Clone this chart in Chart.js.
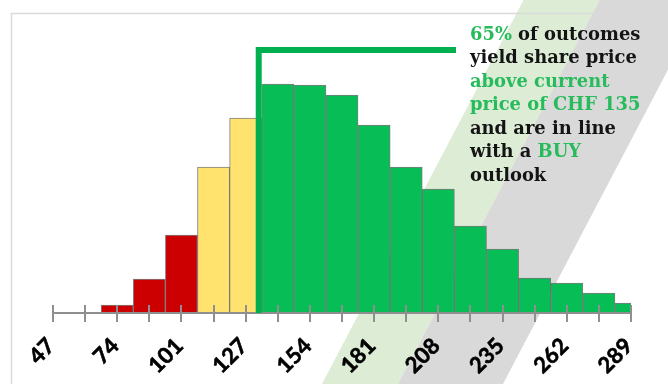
<!DOCTYPE html>
<html>
<head>
<meta charset="utf-8">
<script src="https://cdn.jsdelivr.net/npm/chart.js@4.4.1/dist/chart.umd.min.js"></script>
<style>
  html, body { margin: 0; padding: 0; background: #fff; }
  #wrap { width: 668px; height: 384px; }
</style>
</head>
<body>
<div id="wrap"><canvas id="chart" width="668" height="384"></canvas></div>
<script>
// Centre of each share-price bin (CHF)
const binCentres = ['47', '60', '74', '87', '101', '114', '127', '141', '154', '168',
                    '181', '195', '208', '222', '235', '249', '262', '276', '289'];
// Labels printed under every other bin
const tickLabels = ['47', '74', '101', '127', '154', '181', '208', '235', '262', '289'];
// Simulated outcomes falling in each bin
const outcomes = [0, 0, 8, 34, 78, 146, 195, 229, 228, 218,
                  188, 146, 124, 87, 64, 35, 30, 20, 10];
// Rating zone of each bin
const zones = ['sell', 'sell', 'sell', 'sell', 'sell', 'hold', 'hold', 'buy', 'buy', 'buy',
               'buy', 'buy', 'buy', 'buy', 'buy', 'buy', 'buy', 'buy', 'buy'];
// Bin index boundary at the current share price
const currentPriceEdge = 6.5;

const ZONE_COLORS = { sell: '#cc0000', hold: '#ffe36e', buy: '#07bd55' };
const TEXT_GREEN = '#27bb5c';
const TEXT_DARK = '#141414';

// Callout text, split into coloured runs
const calloutLines = [
  [['65%', 'g'], [' of outcomes', 'k']],
  [['yield share price', 'k']],
  [['above current', 'g']],
  [['price of CHF 135', 'g']],
  [['and are in line', 'k']],
  [['with a ', 'k'], ['BUY', 'g']],
  [['outlook', 'k']]
];

const decor = {
  id: 'decor',
  beforeDraw(chart) {
    const ctx = chart.ctx;
    const W = chart.width, H = chart.height;
    ctx.save();
    ctx.fillStyle = '#ffffff';
    ctx.fillRect(0, 0, W, H);
    // slanted background stripes
    const lean = 0.525 * H;
    const stripe = (x0, x1, col) => {
      ctx.fillStyle = col;
      ctx.beginPath();
      ctx.moveTo(x0, H);
      ctx.lineTo(x1, H);
      ctx.lineTo(x1 + lean, 0);
      ctx.lineTo(x0 + lean, 0);
      ctx.closePath();
      ctx.fill();
    };
    stripe(322, 398, '#dcecd5');
    stripe(398, 503, '#d9d9d9');
    // panel frame
    ctx.strokeStyle = '#dadada';
    ctx.lineWidth = 1.5;
    ctx.beginPath();
    ctx.moveTo(11.5, H);
    ctx.lineTo(11.5, 13.5);
    ctx.lineTo(W, 13.5);
    ctx.stroke();
    ctx.restore();
  },
  afterDatasetsDraw(chart) {
    const ctx = chart.ctx;
    const x = chart.scales.x;
    const y0 = chart.chartArea.bottom;
    ctx.save();
    // axis line and tick marks crossing it
    ctx.strokeStyle = '#8f8f8f';
    ctx.lineWidth = 2;
    ctx.beginPath();
    ctx.moveTo(x.left, y0);
    ctx.lineTo(x.right, y0);
    x.ticks.forEach((t, i) => {
      const px = Math.round(x.getPixelForTick(i));
      ctx.moveTo(px, y0 - 8);
      ctx.lineTo(px, y0 + 9);
    });
    ctx.stroke();
    // bracket marking the current price
    const xp = x.getPixelForValue(currentPriceEdge) - 3;
    ctx.strokeStyle = '#00b050';
    ctx.lineWidth = 6;
    ctx.lineJoin = 'miter';
    ctx.lineCap = 'butt';
    ctx.beginPath();
    ctx.moveTo(xp, y0);
    ctx.lineTo(xp, 50);
    ctx.lineTo(456, 50);
    ctx.stroke();
    ctx.restore();
  },
  afterDraw(chart) {
    const ctx = chart.ctx;
    ctx.save();
    ctx.font = 'bold 17.9px "DejaVu Serif"';
    ctx.textBaseline = 'alphabetic';
    ctx.textAlign = 'left';
    calloutLines.forEach((runs, i) => {
      let cx = 470;
      const by = 39.5 + 23.5 * i;
      runs.forEach(([txt, c]) => {
        ctx.fillStyle = c === 'g' ? TEXT_GREEN : TEXT_DARK;
        ctx.fillText(txt, cx, by);
        cx += ctx.measureText(txt).width;
      });
    });
    ctx.restore();
  }
};

new Chart(document.getElementById('chart'), {
  type: 'bar',
  data: {
    labels: binCentres,
    datasets: [{
      data: outcomes,
      backgroundColor: zones.map(z => ZONE_COLORS[z]),
      borderColor: 'rgba(95,95,95,0.8)',
      borderWidth: 1,
      barPercentage: 1,
      categoryPercentage: 1,
      clip: 0
    }]
  },
  options: {
    responsive: false,
    animation: false,
    devicePixelRatio: 1,
    layout: { padding: { left: 53, right: 37, top: 13, bottom: 0 } },
    plugins: { legend: { display: false }, tooltip: { enabled: false } },
    scales: {
      x: {
        offset: false,
        grid: { display: false },
        border: { display: false },
        ticks: {
          autoSkip: false,
          maxRotation: 45,
          minRotation: 45,
          padding: 12,
          labelOffset: -2,
          color: '#000',
          textStrokeColor: '#000',
          textStrokeWidth: 0.6,
          font: { family: 'Lato', weight: 'bold', size: 22 },
          callback: (v, i) => (i % 2 === 0 ? tickLabels[i / 2] : '')
        },
        afterFit: s => { s.height = 71; }
      },
      y: { display: false, min: 0, max: 300 }
    }
  },
  plugins: [decor]
});
</script>
</body>
</html>
